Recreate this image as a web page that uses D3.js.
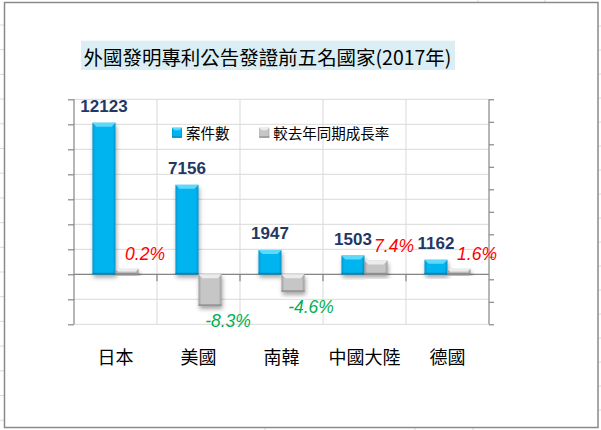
<!DOCTYPE html>
<html><head><meta charset="utf-8">
<script src="https://cdn.jsdelivr.net/npm/d3@7"></script>
<style>body{margin:0;background:#fff}svg{display:block}</style>
</head><body>
<svg id="c" width="601" height="430"></svg>
<script>
const title = "外國發明專利公告發證前五名國家(2017年)";
const countries = ["日本", "美國", "南韓", "中國大陸", "德國"];
const counts = [12123, 7156, 1947, 1503, 1162];
const growth = [0.2, -8.3, -4.6, 7.4, 1.6];
const seriesNames = ["案件數", "較去年同期成長率"];
const leftTicks = [-4000, -2000, 0, 2000, 4000, 6000, 8000, 10000, 12000, 14000];
const rightTicks = [-10, -8, -6, -4, -2, 0, 2, 4, 6, 8, 10];

const svg = d3.select("#c");
const cjk = "'Noto Sans CJK TC','Noto Sans CJK SC',sans-serif";

// spreadsheet background strips outside the chart frame
const sheet = "#d6dbe6";
svg.append("g").selectAll("line").data(d3.range(25, 430, 24.7)).join("line")
  .attr("x1", 0).attr("x2", 4).attr("y1", d => d).attr("y2", d => d)
  .attr("stroke", sheet);
svg.append("g").selectAll("line").data(d3.range(26, 430, 24)).join("line")
  .attr("x1", 598).attr("x2", 601).attr("y1", d => d).attr("y2", d => d)
  .attr("stroke", sheet);
svg.append("g").selectAll("line").data([478, 545]).join("line")
  .attr("x1", d => d).attr("x2", d => d).attr("y1", 0).attr("y2", 2).attr("stroke", sheet);
svg.append("g").selectAll("line").data([265, 415, 473]).join("line")
  .attr("x1", d => d).attr("x2", d => d).attr("y1", 428).attr("y2", 430).attr("stroke", sheet);

// chart frame
svg.append("rect").attr("x", 4.5).attr("y", 2.5).attr("width", 593.5).attr("height", 425)
  .attr("fill", "#fff").attr("stroke", "#8a8a8a").attr("stroke-width", 1.5);

const defs = svg.append("defs");
const sh = defs.append("filter").attr("id", "sh").attr("x", "-30%").attr("y", "-30%").attr("width", "160%").attr("height", "160%");
sh.append("feDropShadow").attr("dx", 1).attr("dy", 3).attr("stdDeviation", 2)
  .attr("flood-color", "#000").attr("flood-opacity", 0.35);
function grad(id, edge, mid) {
  const g = defs.append("linearGradient").attr("id", id).attr("x1", 0).attr("x2", 1).attr("y1", 0).attr("y2", 0);
  [[0, edge], [0.12, mid], [0.88, mid], [1, edge]].forEach(([o, c]) =>
    g.append("stop").attr("offset", o).attr("stop-color", c));
}
grad("gBlue", "#0a93c9", "#00b4f0");
grad("gGray", "#9c9c9c", "#c6c6c6");
const styles = {
  blue: {fill: "url(#gBlue)", top: "#5fd9fb", bottom: "#0586b8"},
  gray: {fill: "url(#gGray)", top: "#ececec", bottom: "#8e8e8e"}
};

// title
svg.append("rect").attr("x", 81).attr("y", 40.7).attr("width", 374).attr("height", 29.3).attr("fill", "#daeef3");
const t = svg.append("text").attr("x", 83.5).attr("y", 56).attr("dominant-baseline", "central")
  .attr("font-family", cjk).attr("font-size", 20).attr("fill", "#000").text(title);
const tw = t.node().getComputedTextLength();
t.attr("font-size", 20 * 368 / tw);

// scales
const x = d3.scaleBand().domain(countries).range([74, 489]).padding(0);
const xs = d3.scaleBand().domain(["c", "g"]).range([0, x.bandwidth()]).paddingInner(0).paddingOuter(0.8);
const y = d3.scaleLinear().domain([-4000, 14000]).range([324.3, 99.3]);
const y0 = y(0);
const y2 = d3.scaleLinear().domain([-10, 0, 10]).range([y0 + 38, y0, y0 - 18.5]);
const yr = d3.scaleLinear().domain([-10, 10]).range([324.3, 99.3]);

// gridlines
const grid = svg.append("g").attr("stroke", "#d9d9d9").attr("stroke-width", 1);
grid.selectAll("line.h").data(leftTicks).join("line").attr("class", "h")
  .attr("x1", 74).attr("x2", 489).attr("y1", d => y(d)).attr("y2", d => y(d));
grid.selectAll("line.v").data(countries.slice(1)).join("line").attr("class", "v")
  .attr("x1", d => x(d)).attr("x2", d => x(d)).attr("y1", y(14000)).attr("y2", y(-4000));

// axes
const axCol = "#868686";
const la = svg.append("g").attr("transform", "translate(74,0)")
  .call(d3.axisLeft(y).tickValues(leftTicks).tickSize(6).tickFormat(""));
const ra = svg.append("g").attr("transform", "translate(489,0)")
  .call(d3.axisRight(yr).tickValues(rightTicks).tickSize(5).tickFormat(""));
[la, ra].forEach(a => { a.selectAll("path,line").attr("stroke", axCol).attr("stroke-width", 1.2); a.select(".domain").attr("d", "M0,99.3V324.3"); });
svg.append("line").attr("x1", 74).attr("x2", 489).attr("y1", y0).attr("y2", y0).attr("stroke", axCol).attr("stroke-width", 1.2);
svg.append("g").selectAll("line").data(countries.slice(1)).join("line")
  .attr("x1", d => x(d)).attr("x2", d => x(d)).attr("y1", y0).attr("y2", y0 + 7)
  .attr("stroke", axCol).attr("stroke-width", 1.2);

// bars
function bevelBar(g, bx, w, yA, yB, st) {
  const top = Math.min(yA, yB), h = Math.abs(yB - yA);
  const grp = g.append("g").attr("filter", "url(#sh)");
  grp.append("rect").attr("x", bx).attr("y", top).attr("width", w).attr("height", h).attr("fill", st.fill);
  const b = Math.min(4, h / 2);
  grp.append("path").attr("d", `M${bx},${top}H${bx + w}L${bx + w - b},${top + b}H${bx + b}Z`).attr("fill", st.top);
  grp.append("rect").attr("x", bx).attr("y", top + h - 1.5).attr("width", w).attr("height", 1.5).attr("fill", st.bottom);
}
const bars = svg.append("g");
countries.forEach((c, i) => {
  const bx = x(c) + xs("c"), gx = x(c) + xs("g"), w = xs.bandwidth();
  bevelBar(bars, bx, w, y0, y(counts[i]), styles.blue);
  let g1 = y2(growth[i]);
  if (Math.abs(g1 - y0) < 5) g1 = growth[i] >= 0 ? y0 - 5.5 : y0 + 5.5;
  bevelBar(bars, gx, w, y0, g1, styles.gray);
});

// value labels
svg.append("g").selectAll("text").data(counts).join("text")
  .attr("x", (d, i) => x(countries[i]) + xs("c") + xs.bandwidth() / 2)
  .attr("y", d => y(d) - 11).attr("text-anchor", "middle")
  .attr("font-family", "'Liberation Sans',Arial,sans-serif").attr("font-weight", "bold")
  .attr("font-size", 17).attr("fill", "#1f3864").text(d => d);
svg.append("g").selectAll("text").data(growth).join("text")
  .attr("x", (d, i) => x(countries[i]) + xs("g") + xs.bandwidth() / 2 + 18)
  .attr("y", d => d >= 0 ? Math.min(y2(d), y0 - 5.5) - 9 : y2(d) + 21)
  .attr("text-anchor", "middle")
  .attr("font-family", "'Liberation Sans',Arial,sans-serif").attr("font-style", "italic")
  .attr("font-size", 17.5).attr("fill", d => d >= 0 ? "#ff0000" : "#00b050")
  .text(d => d.toFixed(1) + "%");

// category labels
svg.append("g").selectAll("text").data(countries).join("text")
  .attr("x", d => x(d) + x.bandwidth() / 2).attr("y", 356)
  .attr("text-anchor", "middle").attr("dominant-baseline", "central")
  .attr("font-family", cjk).attr("font-size", 18).attr("fill", "#000").text(d => d);

// legend
const lg = svg.append("g");
[[172, 186, styles.blue], [259.3, 273.3, styles.gray]].forEach(([sx, tx, st], i) => {
  const g = lg.append("g");
  g.append("rect").attr("x", sx).attr("y", 127.7).attr("width", 10).attr("height", 10).attr("fill", st.fill);
  g.append("path").attr("d", `M${sx},127.7H${sx + 10}L${sx + 7.5},130.2H${sx + 2.5}Z`).attr("fill", st.top);
  g.append("rect").attr("x", sx).attr("y", 136.4).attr("width", 10).attr("height", 1.3).attr("fill", st.bottom);
  g.append("text").attr("x", tx).attr("y", 132.7).attr("dominant-baseline", "central")
    .attr("font-family", cjk).attr("font-size", 14.5).attr("fill", "#000").text(seriesNames[i]);
});
</script>
</body></html>
